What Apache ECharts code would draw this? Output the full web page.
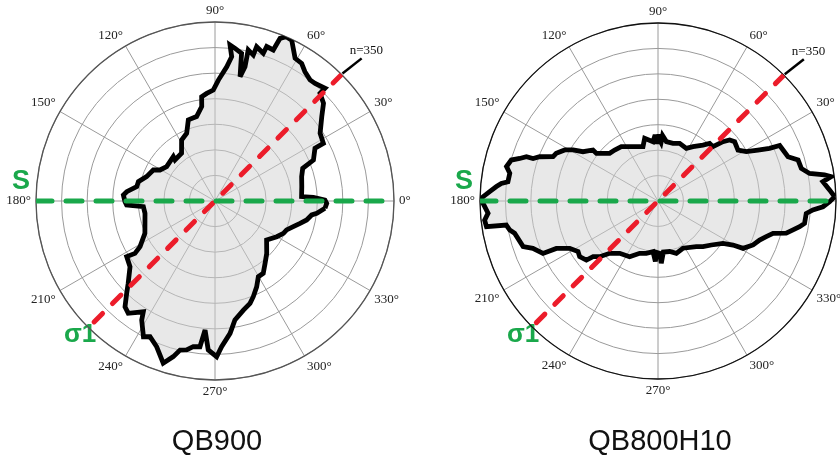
<!DOCTYPE html>
<html><head><meta charset="utf-8">
<script src="https://cdn.jsdelivr.net/npm/echarts@6/dist/echarts.min.js"></script>
<style>html,body{margin:0;padding:0;background:#fff}#c{width:840px;height:457px}</style>
</head><body><div id="c"></div>
<script>
// ---- data ----
const angleTicks = [0, 30, 60, 90, 120, 150, 180, 210, 240, 270, 300, 330];
const maxR = 7;
const sigma1Angle = 45;
const sAngle = 0;
const countLabel = 'n=350';
const titles = ['QB900', 'QB800H10'];

const leftAngles = [356.2,358.8,0.5,2.1,2.9,9.4,15.7,20.4,22.6,27.8,28.0,32.8,38.3,42.0,45.7,45.7,49.6,51.9,55.2,57.8,60.7,64.5,66.6,68.2,68.9,71.5,71.9,74.9,75.3,77.6,77.4,78.6,79.8,82.5,84.5,83.4,85.0,88.4,90.9,94.4,97.3,98.0,102.3,108.2,112.7,118.7,125.0,134.3,133.2,144.6,150.6,153.3,160.4,165.8,169.6,174.0,176.3,180.4,182.6,184.5,190.0,204.8,211.3,213.2,212.2,217.7,223.5,226.3,229.6,232.3,237.1,238.4,242.2,244.4,248.2,252.3,255.0,256.8,259.2,261.5,264.1,265.6,267.4,270.6,272.6,276.5,279.5,284.6,288.9,291.8,295.9,299.8,303.7,308.7,314.6,322.9,330.0,334.7,338.0,341.9,345.3,348.3,351.8,353.1];
const leftRadii  = [4.31,4.37,4.30,3.85,3.39,3.44,3.52,3.66,4.17,4.42,4.80,4.89,5.32,5.71,5.88,6.16,6.04,6.02,6.16,6.36,6.40,6.97,7.00,6.85,6.33,6.37,6.08,6.25,5.90,6.05,5.38,4.96,5.87,6.02,6.13,5.68,5.27,4.73,4.34,4.22,4.11,3.73,3.38,3.34,2.87,2.72,2.28,2.24,2.38,2.32,2.47,2.70,2.84,3.09,3.11,3.47,3.59,3.52,3.46,2.81,2.78,3.02,3.43,3.74,4.08,4.20,4.68,5.00,5.43,5.55,5.16,5.47,6.00,5.88,6.14,6.66,6.30,5.99,5.93,5.76,5.73,5.06,5.83,6.09,5.70,5.21,4.72,4.41,4.23,4.03,3.73,3.41,3.40,3.13,2.88,2.53,2.79,2.96,3.02,3.22,3.44,3.66,3.82,4.01];

const rightAngles = [1.4,3.7,6.7,8.0,8.9,10.3,12.8,16.3,18.8,24.5,25.3,27.0,29.2,32.5,37.7,40.4,42.4,44.7,48.1,51.2,57.2,61.7,69.4,75.4,82.0,86.0,87.0,88.4,89.2,90.5,91.5,92.5,94.8,102.0,105.4,111.7,117.5,124.0,130.4,135.4,139.1,142.3,141.9,146.7,149.0,151.3,154.9,157.1,159.5,161.2,161.4,162.9,164.4,167.2,169.4,172.7,173.6,174.9,176.8,178.6,179.7,180.8,184.1,186.3,188.5,189.0,191.1,192.7,198.7,200.7,204.5,205.0,208.2,212.3,215.4,219.5,220.6,223.7,227.3,233.8,243.0,250.7,257.4,264.4,267.5,268.5,271.8,273.0,274.7,276.0,283.0,289.3,297.8,310.0,314.6,320.5,326.9,329.6,330.9,335.2,339.0,341.8,344.3,345.9,347.9,349.7,351.3,355.2,356.7,358.0,359.8];
const rightRadii  = [6.95,6.76,6.53,6.88,6.63,6.06,5.78,5.74,5.40,5.26,4.85,4.41,3.98,3.73,3.81,3.70,3.46,3.04,3.04,2.82,2.54,2.35,2.42,2.34,2.36,2.58,2.30,2.40,2.62,2.25,2.46,2.60,2.34,2.52,2.22,2.30,2.41,2.58,2.63,2.67,2.86,3.06,3.25,3.53,3.90,4.18,4.42,4.48,4.97,5.19,5.46,5.69,5.99,6.11,5.93,5.95,6.20,6.38,6.63,6.88,7.00,6.88,6.70,6.86,6.82,6.04,5.94,5.78,5.60,5.26,4.97,4.41,3.94,3.72,3.78,3.65,3.36,3.17,2.80,2.55,2.46,2.18,2.11,2.00,2.38,2.02,2.06,2.45,2.39,2.02,2.04,2.18,2.10,2.34,2.52,2.72,3.05,3.42,3.83,4.12,4.28,4.48,4.70,5.20,5.43,5.66,5.83,5.85,6.10,6.49,6.75];

// ---- build ----
const GREEN = '#1aa84b', RED = '#ec1c2a';
function closed(angles, radii) {
  const d = angles.map((a, i) => [radii[i], a]);
  d.push(d[0]);
  return d;
}
const shapes = [closed(leftAngles, leftRadii), closed(rightAngles, rightRadii)];
const centers = [[215, 201], [658, 201]];
const radii = [179, 178];
const rimColors = ['#555', '#111'];

const polar = [], angleAxis = [], radiusAxis = [], series = [], graphic = [];
const shapeSeriesIdx = [];
for (let k = 0; k < 2; k++) {
  polar.push({ center: centers[k], radius: radii[k] });
  angleAxis.push({
    polarIndex: k, type: 'value', min: 0, max: 360, interval: 30,
    startAngle: 0, clockwise: false,
    axisLine: { lineStyle: { color: rimColors[k], width: 1.3 } },
    axisTick: { show: false },
    axisLabel: {
      margin: 5, color: '#222', fontFamily: 'Liberation Serif', fontSize: 13,
      formatter: v => angleTicks.indexOf(v) >= 0 ? v + '°' : ''
    },
    splitLine: { show: true, lineStyle: { color: '#9a9a9a', width: 1 } }
  });
  radiusAxis.push({
    polarIndex: k, type: 'value', min: 0, max: maxR, interval: 1,
    axisLine: { show: false }, axisTick: { show: false }, axisLabel: { show: false },
    splitLine: { show: true, lineStyle: { color: '#9a9a9a', width: 1 } }
  });
  shapeSeriesIdx.push(series.length);
  series.push({
    type: 'line', coordinateSystem: 'polar', polarIndex: k, data: shapes[k],
    symbol: 'none', silent: true, z: 2,
    lineStyle: { color: '#000', width: 4.8, join: 'miter', miterLimit: 3 },
    areaStyle: { color: '#d2d2d2', opacity: 0.5 }
  });
  series.push({
    type: 'line', coordinateSystem: 'polar', polarIndex: k, z: 3, clip: false,
    data: [[maxR, sigma1Angle], [0, 0], [maxR, sigma1Angle + 180]],
    symbol: 'none', silent: true,
    lineStyle: { color: RED, width: 5, type: [12, 14], cap: 'round' }
  });
  series.push({
    type: 'line', coordinateSystem: 'polar', polarIndex: k, z: 4, clip: false,
    data: [[maxR, sAngle + 180], [0, 0], [maxR, sAngle]],
    symbol: 'none', silent: true,
    lineStyle: { color: GREEN, width: 5, type: [16, 14], cap: 'round' }
  });
  graphic.push({
    type: 'text', left: centers[k][0] - 203, top: 168,
    style: { text: 'S', fontFamily: 'Liberation Sans', fontWeight: 'bold', fontSize: 27, fill: GREEN }
  });
  graphic.push({
    type: 'text', left: centers[k][0] - 151, top: 322,
    style: { text: 'σ1', fontFamily: 'Liberation Sans', fontWeight: 'bold', fontSize: 26, fill: GREEN }
  });
  graphic.push({
    type: 'text', x: centers[k][0] + 2, y: 442,
    style: { text: titles[k], fontFamily: 'Liberation Sans', fontSize: 29, fill: '#111',
      align: 'center', verticalAlign: 'middle' }
  });
}

const chart = echarts.init(document.getElementById('c'), null, { renderer: 'canvas' });
chart.setOption({ animation: false, polar, angleAxis, radiusAxis, series, graphic });

// count annotation leader line, positioned through the polar scale
const extra = [];
for (let k = 0; k < 2; k++) {
  const p1 = chart.convertToPixel({ seriesIndex: shapeSeriesIdx[k] }, [maxR + 0.05, sigma1Angle]);
  const p2 = chart.convertToPixel({ seriesIndex: shapeSeriesIdx[k] }, [maxR + 1.0, sigma1Angle - 0.8]);
  extra.push({
    type: 'line', z: 10, silent: true,
    shape: { x1: p1[0], y1: p1[1], x2: p2[0], y2: p2[1] },
    style: { stroke: '#000', lineWidth: 2.5 }
  });
  extra.push({
    type: 'text', z: 10, x: p2[0] - 12, y: p2[1] - 1,
    style: { text: countLabel, fontFamily: 'Liberation Serif', fontSize: 13, fill: '#111',
      align: 'left', verticalAlign: 'bottom' }
  });
}
chart.setOption({ graphic: graphic.concat(extra) });
</script></body></html>
